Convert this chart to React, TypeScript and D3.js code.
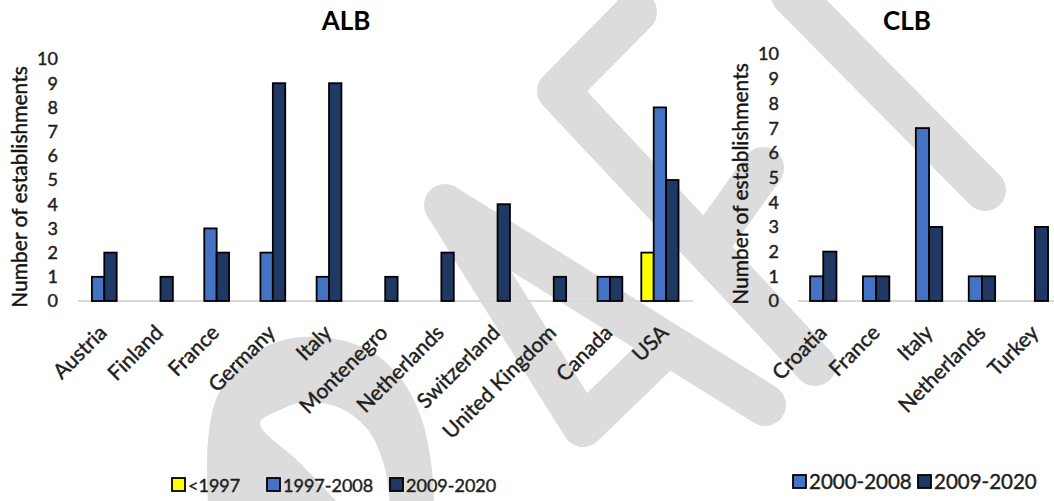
import React from "react";
import * as d3 from "d3";

// ---------- data ----------
const albCategories = ["Austria", "Finland", "France", "Germany", "Italy", "Montenegro", "Netherlands", "Switzerland", "United Kingdom", "Canada", "USA"];
const albSeriesNames = ["<1997", "1997-2008", "2009-2020"];
const albPre1997 = [0, 0, 0, 0, 0, 0, 0, 0, 0, 0, 2];
const alb1997to2008 = [1, 0, 3, 2, 1, 0, 0, 0, 0, 1, 8];
const alb2009to2020 = [2, 1, 2, 9, 9, 1, 2, 4, 1, 1, 5];

const clbCategories = ["Croatia", "France", "Italy", "Netherlands", "Turkey"];
const clbSeriesNames = ["2000-2008", "2009-2020"];
const clb2000to2008 = [1, 1, 7, 1, 0];
const clb2009to2020 = [2, 1, 3, 1, 3];

const yTickValues = [0, 1, 2, 3, 4, 5, 6, 7, 8, 9, 10];
const yAxisTitle = "Number of establishments";

// ---------- styles ----------
const FONT = "Lato, 'Open Sans', sans-serif";
const YELLOW = "#FFFF00";
const LIGHT = "#4472C4";
const DARK = "#203864";
const TEXT = "#1f1f1f";
const WM = "#dcdcdc";
const textWeight = { stroke: TEXT, strokeWidth: 0.45 };

// watermark decoration (background)
const wmStrokes: [number, number][][] = [
  [[792, -5], [985, 190]],
  [[636, 12], [558, 91], [815, 365]],
  [[710, 242], [763, 168]],
  [[765, 405], [445, 205], [583, 426], [666, 346]],
];
const wmDOuter: [number, number][] = [[208, 505], [208, 440], [218, 395], [245, 360], [283, 340], [330, 338], [372, 352], [402, 380], [422, 420], [432, 470], [434, 505]];
const wmDInner: [number, number][] = [[390, 505], [384, 465], [368, 430], [340, 408], [305, 402], [280, 410], [260, 423], [300, 463], [340, 505]];

type ChartProps = {
  title: string;
  titleX: number;
  categories: string[];
  seriesNames: string[];
  series: number[][];
  colors: string[];
  xRange: [number, number];
  barW: number;
  yRange: [number, number];
  axisLine: [number, number];
  tickX: number;
  yTitlePos: [number, number];
  labelOffset: [number, number];
};

function Chart(p: ChartProps) {
  const x = d3.scaleBand<string>().domain(p.categories).range(p.xRange).paddingInner(0).paddingOuter(0);
  const n = p.seriesNames.length;
  const inner = d3.scaleBand<string>().domain(p.seriesNames).range([-(n * p.barW) / 2, (n * p.barW) / 2]);
  const y = d3.scaleLinear().domain([0, 10]).range(p.yRange);
  const step = x.step();
  return (
    <g fontFamily={FONT}>
      <text x={p.titleX} y={30} textAnchor="middle" fontSize={26} fontWeight="bold" fill="#000">
        {p.title}
      </text>
      {yTickValues.map((v) => (
        <text key={v} x={p.tickX} y={y(v)} dy="0.36em" textAnchor="end" fontSize={18} fill={TEXT} {...textWeight}>
          {v}
        </text>
      ))}
      <text transform={`translate(${p.yTitlePos[0]},${p.yTitlePos[1]}) rotate(-90)`} textAnchor="middle" fontSize={21} fill="#111" {...textWeight}>
        {yAxisTitle}
      </text>
      <line x1={p.axisLine[0]} x2={p.axisLine[1]} y1={y(0)} y2={y(0)} stroke="#d9d9d9" strokeWidth={2} />
      {p.categories.map((c, i) => {
        const cx = (x(c) as number) + step / 2;
        return (
          <g key={c}>
            {p.seriesNames.map((s, j) => {
              const v = p.series[j][i];
              if (!v) return null;
              return (
                <rect
                  key={s}
                  x={cx + (inner(s) as number)}
                  y={y(v)}
                  width={inner.bandwidth()}
                  height={y(0) - y(v)}
                  fill={p.colors[j]}
                  stroke="#000"
                  strokeWidth={1.8}
                />
              );
            })}
            <text
              transform={`translate(${cx + p.labelOffset[0]},${p.labelOffset[1]}) rotate(-45)`}
              textAnchor="end"
              fontSize={21}
              fill={TEXT}
              {...textWeight}
            >
              {c}
            </text>
          </g>
        );
      })}
    </g>
  );
}

function Legend({ names, colors, xs, y, size, font }: { names: string[]; colors: string[]; xs: number[]; y: number; size: number; font: number }) {
  return (
    <g fontFamily={FONT}>
      {names.map((nm, i) => (
        <g key={nm}>
          <rect x={xs[i]} y={y - size} width={size} height={size} fill={colors[i]} stroke="#000" strokeWidth={1.8} />
          <text x={xs[i] + size + 3} y={y + 1} fontSize={font} fill={TEXT} {...textWeight}>
            {nm}
          </text>
        </g>
      ))}
    </g>
  );
}

export default function App() {
  const line = d3.line();
  const dOuter = d3.line().curve(d3.curveCatmullRom)(wmDOuter) as string;
  const dInner = d3.line().curve(d3.curveCatmullRom)(wmDInner) as string;
  const dPath = dOuter + "L" + dInner.slice(1) + "Z";
  return (
    <svg width={1054} height={501} style={{ position: "absolute", left: 0, top: 0, background: "#fff" }}>
      <rect width={1054} height={501} fill="#fff" />
      <g>
        {wmStrokes.map((pts, i) => (
          <path key={i} d={line(pts) as string} fill="none" stroke={WM} strokeWidth={42} strokeLinecap="round" strokeLinejoin="round" />
        ))}
        <path d={dPath} fill={WM} />
      </g>
      <Chart
        title="ALB"
        titleX={346}
        categories={albCategories}
        seriesNames={albSeriesNames}
        series={[albPre1997, alb1997to2008, alb2009to2020]}
        colors={[YELLOW, LIGHT, DARK]}
        xRange={[70, 688]}
        barW={12.4}
        yRange={[301, 59]}
        axisLine={[78, 693]}
        tickX={58}
        yTitlePos={[27, 187]}
        labelOffset={[10, 334]}
      />
      <Chart
        title="CLB"
        titleX={907}
        categories={clbCategories}
        seriesNames={clbSeriesNames}
        series={[clb2000to2008, clb2009to2020]}
        colors={[LIGHT, DARK]}
        xRange={[796.8, 1061.3]}
        barW={13.2}
        yRange={[301, 54]}
        axisLine={[798, 1054]}
        tickX={779}
        yTitlePos={[748, 184]}
        labelOffset={[5, 334]}
      />
      <Legend names={albSeriesNames} colors={[YELLOW, LIGHT, DARK]} xs={[172, 267, 390]} y={491} size={13} font={18} />
      <Legend names={clbSeriesNames} colors={[LIGHT, DARK]} xs={[793, 918]} y={488} size={13} font={20.5} />
    </svg>
  );
}
